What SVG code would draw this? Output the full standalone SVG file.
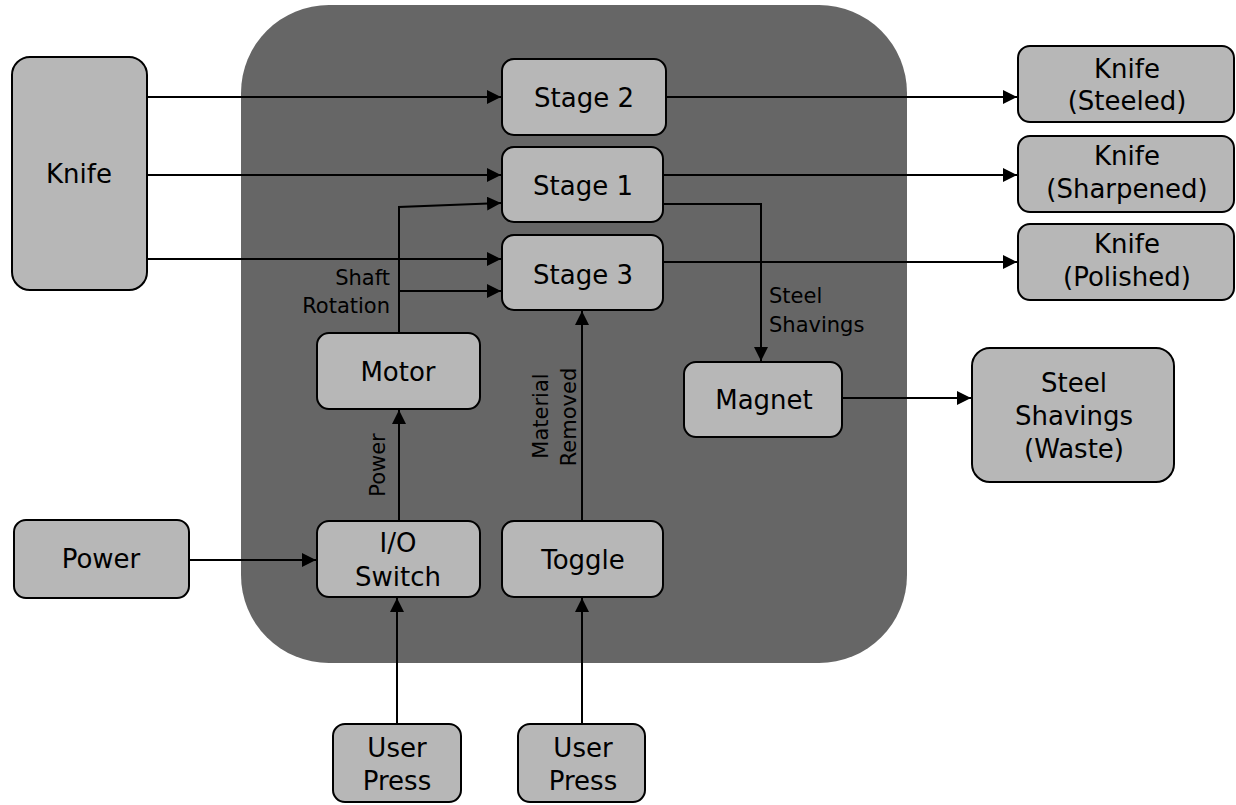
<svg xmlns="http://www.w3.org/2000/svg" width="1236" height="805" viewBox="0 0 1236 805">
<defs>
<marker id="ah" viewBox="0 0 10 10" refX="10" refY="5" markerWidth="14" markerHeight="14" markerUnits="userSpaceOnUse" orient="auto">
<path d="M0,0 L10,5 L0,10 z" fill="#000"/>
</marker>
<style>
.n{fill:#b7b7b7;stroke:#000;stroke-width:2}
.t{font-family:"DejaVu Sans",sans-serif;font-size:26px;fill:#000;text-anchor:middle}
.e{font-family:"DejaVu Sans",sans-serif;font-size:21px;fill:#000}
.c{fill:none;stroke:#000;stroke-width:2;marker-end:url(#ah)}
</style>
</defs>
<rect width="1236" height="805" fill="#fff"/>
<rect id="housing" x="241" y="5" width="666" height="658" rx="88" fill="#666666"/>
<g id="connectors">
<path class="c" d="M147,97 H501"/>
<path class="c" d="M147,175 H501"/>
<path class="c" d="M147,259 H501"/>
<path class="c" d="M399,332 V207 L501,203"/>
<path class="c" d="M399,291 H501"/>
<path class="c" d="M666,97 H1017"/>
<path class="c" d="M663,175 H1017"/>
<path class="c" d="M663,262 H1017"/>
<path class="c" d="M663,204 H761 V361"/>
<path class="c" d="M842,398 H971"/>
<path class="c" d="M399,521 V410"/>
<path class="c" d="M582,521 V311"/>
<path class="c" d="M189,560 H316"/>
<path class="c" d="M397,724 V598"/>
<path class="c" d="M582,724 V598"/>
<text class="e" x="390" y="285" text-anchor="end">Shaft</text>
<text class="e" x="390" y="313" text-anchor="end">Rotation</text>
<text class="e" x="769" y="303">Steel</text>
<text class="e" x="769" y="332">Shavings</text>
<text class="e" transform="translate(385,465) rotate(-90)" text-anchor="middle">Power</text>
<text class="e" transform="translate(548,416) rotate(-90)" text-anchor="middle">Material</text>
<text class="e" transform="translate(576,417) rotate(-90)" text-anchor="middle">Removed</text>
</g>
<g id="knife"><rect class="n" x="12" y="57" width="135" height="233" rx="18"/><text class="t" x="79" y="183">Knife</text></g>
<g id="stage2"><rect class="n" x="502" y="59" width="164" height="76" rx="12"/><text class="t" x="584" y="107">Stage 2</text></g>
<g id="stage1"><rect class="n" x="502" y="147" width="161" height="75" rx="12"/><text class="t" x="583" y="195">Stage 1</text></g>
<g id="stage3"><rect class="n" x="502" y="235" width="161" height="75" rx="12"/><text class="t" x="583" y="284">Stage 3</text></g>
<g id="motor"><rect class="n" x="317" y="333" width="163" height="76" rx="12"/><text class="t" x="398" y="381">Motor</text></g>
<g id="io"><rect class="n" x="317" y="521" width="163" height="76" rx="12"/><text class="t" x="398" y="552">I/O</text><text class="t" x="398" y="586">Switch</text></g>
<g id="toggle"><rect class="n" x="502" y="521" width="161" height="76" rx="12"/><text class="t" x="583" y="569">Toggle</text></g>
<g id="magnet"><rect class="n" x="684" y="362" width="158" height="75" rx="12"/><text class="t" x="764" y="409">Magnet</text></g>
<g id="power"><rect class="n" x="14" y="520" width="175" height="78" rx="12"/><text class="t" x="101" y="568">Power</text></g>
<g id="steeled"><rect class="n" x="1018" y="46" width="216" height="76" rx="12"/><text class="t" x="1127" y="78">Knife</text><text class="t" x="1127" y="110">(Steeled)</text></g>
<g id="sharpened"><rect class="n" x="1018" y="136" width="216" height="76" rx="12"/><text class="t" x="1127" y="165">Knife</text><text class="t" x="1127" y="198">(Sharpened)</text></g>
<g id="polished"><rect class="n" x="1018" y="224" width="216" height="76" rx="12"/><text class="t" x="1127" y="253">Knife</text><text class="t" x="1127" y="286">(Polished)</text></g>
<g id="waste"><rect class="n" x="972" y="348" width="202" height="134" rx="18"/><text class="t" x="1074" y="392">Steel</text><text class="t" x="1074" y="425">Shavings</text><text class="t" x="1074" y="458">(Waste)</text></g>
<g id="press1"><rect class="n" x="333" y="724" width="128" height="78" rx="12"/><text class="t" x="397" y="757">User</text><text class="t" x="397" y="790">Press</text></g>
<g id="press2"><rect class="n" x="518" y="724" width="127" height="78" rx="12"/><text class="t" x="583" y="757">User</text><text class="t" x="583" y="790">Press</text></g>
</svg>
